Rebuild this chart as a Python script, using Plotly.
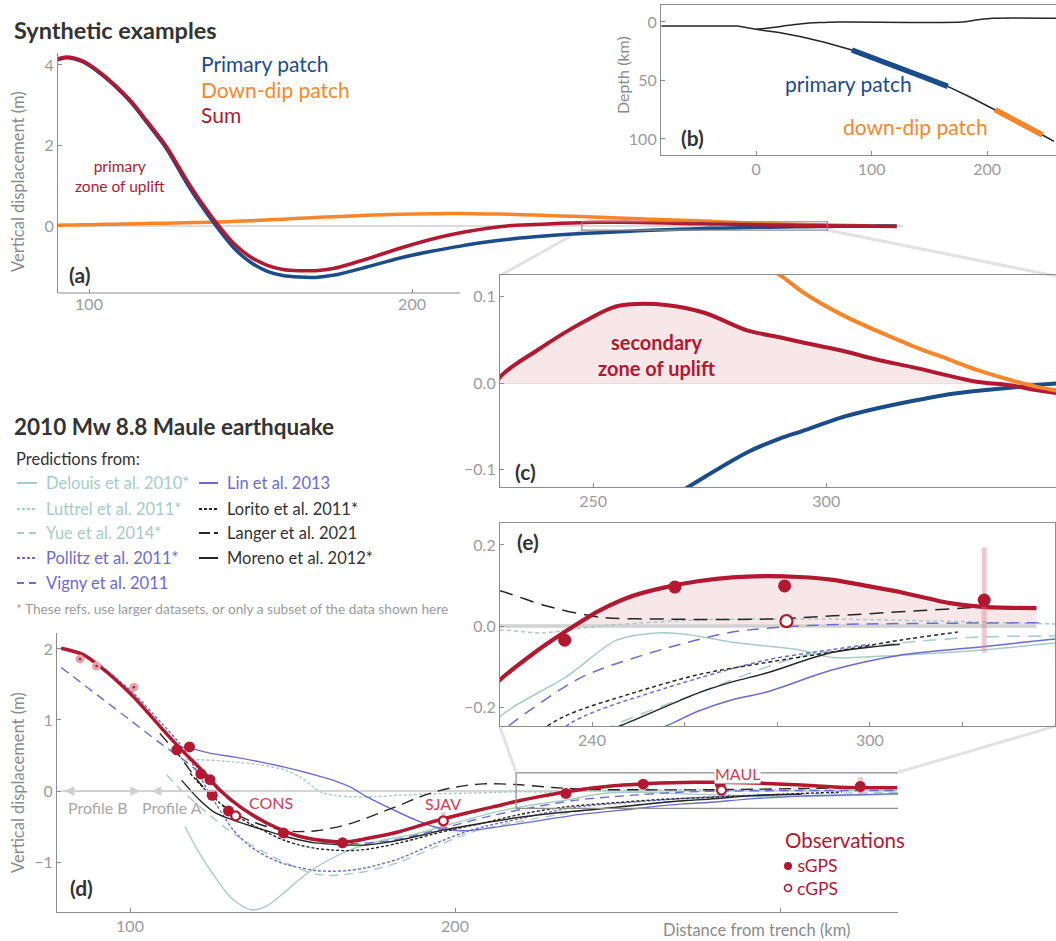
import plotly.graph_objects as go

FIG_W, FIG_H = 1056, 941
FONT = "Lato"

RED = "#b2182f"
RED_LABEL = "#cf3d55"
PINK_FILL = "#f8e7e9"
BLUE = "#1b4c8a"
ORANGE = "#f7862b"
TEAL = "#a5ccc5"
VIOLET = "#6b6bd3"
BLACK = "#262626"
DARK_TXT = "#333333"
GRAY_TXT = "#9b9b9b"
AXIS = "#8c8c8c"
CONNECT = "#e2e2e2"

# ---------------- synthetic examples (km from trench, metres) ----------------
syn_x = [90, 93, 98, 103, 108, 113, 118, 124, 130, 134, 140, 145, 150, 155, 160, 165,
         170, 176, 186, 196, 206, 215, 223, 230, 238, 246, 254, 258, 266, 274, 283, 290,
         295, 303, 311, 319, 326, 332, 340, 345, 350]
syn_primary = [4.12, 4.18, 4.08, 3.82, 3.48, 3.07, 2.56, 1.92, 1.10, 0.60, -0.07, -0.56,
               -0.90, -1.12, -1.23, -1.27, -1.28, -1.22, -1.02, -0.80, -0.63, -0.50, -0.40,
               -0.33, -0.27, -0.22, -0.18, -0.165, -0.135, -0.108, -0.080, -0.064, -0.055,
               -0.040, -0.029, -0.020, -0.013, -0.009, -0.005, -0.002, 0.0]
syn_downdip = [0.02, 0.022, 0.03, 0.037, 0.045, 0.052, 0.06, 0.07, 0.08, 0.088, 0.10,
               0.115, 0.13, 0.15, 0.17, 0.19, 0.21, 0.23, 0.265, 0.29, 0.305, 0.31, 0.30,
               0.29, 0.27, 0.25, 0.23, 0.22, 0.19, 0.17, 0.145, 0.125, 0.105, 0.08, 0.06,
               0.042, 0.028, 0.016, 0.003, -0.004, -0.009]
syn_sum = [4.14, 4.20, 4.10, 3.84, 3.50, 3.10, 2.60, 1.97, 1.17, 0.68, 0.02, -0.45, -0.77,
           -0.97, -1.08, -1.11, -1.11, -1.05, -0.82, -0.56, -0.33, -0.17, -0.065, 0.007,
           0.038, 0.065, 0.087, 0.091, 0.090, 0.081, 0.061, 0.053, 0.047, 0.038, 0.027,
           0.018, 0.009, 0.002, -0.003, -0.008, -0.012]
zoom_box_a = [252.6, 328.6]

# ---------------- fault geometry (km) ----------------
slab_x = [-82, -16, 0, 20, 40, 60, 83, 104, 125, 145, 166, 187, 207, 228, 248, 258]
slab_depth = [3.4, 3.4, 6.3, 9.0, 12.8, 17.5, 24.0, 31.5, 39.0, 47.0, 55.0, 65.0, 75.0,
              86.0, 96.6, 102.0]
topo_x = [0, 20, 38, 55, 73, 179, 192, 205, 260]
topo_depth = [6.3, 4.0, 1.7, 0.5, 0.0, 0.0, -1.8, -3.1, -3.1]
primary_patch_km = [83, 166]
downdip_patch_km = [207, 248]

# ---------------- Maule: preferred model (red) ----------------
model_x = [78.8, 85.6, 90.8, 96, 101, 105, 109.2, 115.4, 121.5, 127.7, 133.8, 142.1, 152.3,
           162.5, 167.7, 172.8, 183.1, 193.3, 203.6, 212, 220.1, 227.2, 234.5, 241.6,
           248.7, 256, 263.2, 270.3, 277.7, 284.8, 292, 299.3, 306.5, 317, 324.3, 336]
model_y = [2.01, 1.92, 1.75, 1.55, 1.33, 1.13, 0.91, 0.60, 0.32, 0.01, -0.22, -0.45, -0.64,
           -0.71, -0.71, -0.67, -0.57, -0.43, -0.31, -0.22, -0.133, -0.069, -0.012, 0.038,
           0.074, 0.096, 0.111, 0.12, 0.123, 0.121, 0.114, 0.099, 0.084, 0.057, 0.047, 0.044]

# ---------------- Maule: published predictions ----------------
delouis_x = [116.9, 121, 126, 131, 136.9, 142, 147.2, 152, 157.4, 162.5, 167.7, 173, 178,
             188.2, 198.5, 208.7, 215, 223, 234.5, 245.3, 254, 259.7, 270.3, 284.8, 292,
             306.5, 324.3, 340]
delouis_y = [-0.5, -0.85, -1.2, -1.5, -1.67, -1.62, -1.44, -1.25, -1.07, -0.94, -0.83,
             -0.75, -0.69, -0.6, -0.47, -0.34, -0.27, -0.2, -0.125, -0.035, -0.017, -0.02,
             -0.04, -0.059, -0.078, -0.072, -0.059, -0.042]
luttrel_x = [117.4, 121.5, 131.8, 140, 147.2, 152.3, 158.5, 163, 167.7, 175, 183, 193, 203.6,
             212, 220, 229.3, 241.6, 263, 292, 340]
luttrel_y = [0.44, 0.44, 0.41, 0.37, 0.3, 0.2, -0.01, -0.06, -0.08, -0.08, -0.06, -0.04,
             -0.03, -0.02, -0.01, -0.017, 0.0, 0.015, 0.017, 0.005]
yue_x = [111.3, 116, 121, 125.6, 131.8, 142, 152.3, 157, 162.6, 167, 172.8, 183, 193.3,
         203.6, 210, 220, 232, 243.8, 263, 284.8, 306.5, 324, 340]
yue_y = [0.23, 0.0, -0.2, -0.38, -0.6, -0.88, -1.1, -1.17, -1.19, -1.17, -1.13, -1.0, -0.8,
         -0.6, -0.52, -0.43, -0.33, -0.25, -0.165, -0.076, -0.042, -0.027, -0.025]
pollitz_x = [90.8, 101, 109.2, 115.4, 121.5, 126.7, 131.8, 137, 142, 147, 152.3, 157, 162.6,
             167, 172.8, 183, 193.3, 203.6, 210, 220, 235.8, 256, 277.7, 292, 300]
pollitz_y = [1.77, 1.38, 0.98, 0.66, 0.2, -0.2, -0.55, -0.78, -0.92, -1.02, -1.08, -1.12,
             -1.13, -1.12, -1.08, -0.95, -0.75, -0.57, -0.49, -0.39, -0.237, -0.153, -0.084,
             -0.058, -0.045]
vigny_x = [78.8, 90, 100, 110, 117, 124, 131, 140, 150, 160, 170, 180, 190, 200, 210, 223.7,
           238, 256, 270.3, 284.8, 299.3, 337]
vigny_y = [1.74, 1.35, 1.0, 0.65, 0.42, 0.15, -0.14, -0.42, -0.62, -0.72, -0.74, -0.7, -0.6,
           -0.48, -0.36, -0.232, -0.125, -0.055, -0.015, 0.0, 0.005, 0.008]
lin_x = [115, 118.5, 125, 131.8, 140, 147.2, 155, 162.6, 168, 172.8, 178, 183.1, 188, 193.3,
         201.5, 207.7, 220, 238.5, 256, 263, 270.3, 277.7, 292, 306.5, 324.3, 340]
lin_y = [0.62, 0.6, 0.53, 0.48, 0.41, 0.34, 0.25, 0.15, 0.05, -0.08, -0.2, -0.31, -0.41,
         -0.5, -0.56, -0.54, -0.46, -0.33, -0.247, -0.21, -0.182, -0.163, -0.108, -0.072,
         -0.051, -0.032]
lorito_x = [118.5, 122, 126.7, 131, 136.9, 142, 147.2, 152, 157.4, 162, 167.7, 173, 178, 183,
            188.2, 193, 198.5, 208.7, 220, 233.7, 248.7, 263, 277.7, 292, 306.5, 319]
lorito_y = [0.25, 0.07, -0.13, -0.3, -0.46, -0.58, -0.69, -0.76, -0.81, -0.83, -0.84, -0.82,
            -0.78, -0.73, -0.67, -0.61, -0.55, -0.45, -0.33, -0.225, -0.166, -0.12, -0.09,
            -0.064, -0.035, -0.015]
langer_x = [109.2, 115.4, 121.5, 126.5, 131.8, 137, 142, 150.3, 157.4, 162.5, 167.7, 172.8,
            177.9, 183, 188.2, 193.3, 198.5, 203.6, 208.7, 214, 220.1, 230, 241.6, 256, 277.7,
            292, 306.5, 324.3]
langer_y = [0.81, 0.48, 0.11, -0.12, -0.31, -0.42, -0.5, -0.57, -0.56, -0.52, -0.46, -0.38,
            -0.29, -0.2, -0.1, -0.02, 0.04, 0.08, 0.1, 0.1, 0.087, 0.05, 0.022, 0.017, 0.017,
            0.025, 0.035, 0.047]
moreno_x = [115.9, 121.5, 126, 131.8, 137, 142, 147, 152.3, 157, 162.6, 167, 172.8, 178,
            183.1, 190, 196.4, 208.7, 220, 233, 246, 263, 270.3, 277.7, 292, 306.5]
moreno_y = [0.15, -0.13, -0.3, -0.41, -0.49, -0.56, -0.63, -0.69, -0.73, -0.75, -0.76, -0.76,
            -0.73, -0.69, -0.62, -0.55, -0.45, -0.37, -0.3, -0.247, -0.165, -0.138, -0.116,
            -0.065, -0.045]

# ---------------- Maule: GPS observations ----------------
sgps_x = [114.4, 118.3, 121.8, 124.6, 125.3, 130.3, 147.2, 165.4, 234.1, 257.9, 281.6, 324.7]
sgps_y = [0.58, 0.62, 0.24, 0.16, -0.06, -0.28, -0.59, -0.73, -0.035, 0.096, 0.099, 0.064]
sgps_err = [0, 0, 0, 0, 0, 0, 0, 0, 0, 0, 0, 0.13]
cgps_x = [132.5, 196.4, 282.0]
cgps_y = [-0.35, -0.42, 0.012]
cgps_err = [0, 0.12, 0]
cgps_names = ["CONS", "SJAV", "MAUL"]
profile_b_x = [84.6, 89.7, 101.2]
profile_b_y = [1.86, 1.76, 1.46]
profile_b_km = [79.4, 103.1]
profile_a_start_km = 106.2
zoom_box_d = [218.8, 336.6, -0.245, 0.255]

legend_col1 = [("Delouis et al. 2010*", TEAL, "solid"),
               ("Luttrel et al. 2011*", TEAL, "3px,2px"),
               ("Yue et al. 2014*", TEAL, "7px,5px"),
               ("Pollitz et al. 2011*", VIOLET, "3px,2px"),
               ("Vigny et al. 2011", VIOLET, "7px,5px")]
legend_col2 = [("Lin et al. 2013", VIOLET, "solid"),
               ("Lorito et al. 2011*", BLACK, "3px,2px"),
               ("Langer et al. 2021", BLACK, "11px,4px"),
               ("Moreno et al. 2012*", BLACK, "solid")]


def fx(p):
    return p / FIG_W


def fy(p):
    return 1 - p / FIG_H


fig = go.Figure()


def add_line(x, y, ax, color, width, dash="solid", shape="spline", **kw):
    fig.add_trace(go.Scatter(
        x=x, y=y, xaxis="x" + ax, yaxis="y" + ax, mode="lines",
        line=dict(color=color, width=width, dash=dash, shape=shape, smoothing=0.8),
        hoverinfo="skip", showlegend=False, **kw))


# (a) synthetic profiles
add_line(syn_x, syn_downdip, "", ORANGE, 3.5)
add_line(syn_x, syn_primary, "", BLUE, 3.5)
add_line(syn_x, syn_sum, "", RED, 3.5)

# (b) geometry
add_line(slab_x, slab_depth, "2", BLACK, 1.5, shape="linear")
add_line(topo_x, topo_depth, "2", BLACK, 1.5)
for (k0, k1), col in ((primary_patch_km, BLUE), (downdip_patch_km, ORANGE)):
    px_ = [v for v in slab_x if k0 <= v <= k1]
    pd_ = [d for v, d in zip(slab_x, slab_depth) if k0 <= v <= k1]
    add_line(px_, pd_, "2", col, 5.5, shape="linear")

# (c) close-up of the secondary uplift
sum_pos = [max(v, 0.0) for v in syn_sum]
add_line(syn_x, sum_pos, "3", "rgba(0,0,0,0)", 0, shape="linear",
         fill="tozeroy", fillcolor=PINK_FILL)
add_line(syn_x, syn_primary, "3", BLUE, 4)
add_line(syn_x, syn_sum, "3", RED, 4)
add_line(syn_x, syn_downdip, "3", ORANGE, 4)

# (d) and (e) Maule predictions
models = [
    (delouis_x, delouis_y, TEAL, "solid", "solid"),
    (luttrel_x, luttrel_y, TEAL, "3px,2px", "4px,3px"),
    (yue_x, yue_y, TEAL, "9px,6px", "13px,8px"),
    (pollitz_x, pollitz_y, VIOLET, "3px,2px", "4px,3px"),
    (vigny_x, vigny_y, VIOLET, "9px,6px", "12px,8px"),
    (lin_x, lin_y, VIOLET, "solid", "solid"),
    (lorito_x, lorito_y, BLACK, "3px,2px", "4px,3px"),
    (langer_x, langer_y, BLACK, "12px,7px", "14px,8px"),
    (moreno_x, moreno_y, BLACK, "solid", "solid"),
]

model_pos = [max(v, 0.0) for v in model_y]
add_line(model_x, model_pos, "5", "rgba(0,0,0,0)", 0, shape="linear",
         fill="tozeroy", fillcolor=PINK_FILL)
zero_x = [model_x[0], model_x[-1]]
add_line(zero_x, [0, 0], "4", "#d6d6d6", 2, shape="linear")
add_line(zero_x, [0, 0], "5", "#d2d2d2", 3.5, shape="linear")

for mx, my, col, dash_d, dash_e in models:
    add_line(mx, my, "4", col, 1.4, dash_d)
    add_line(mx, my, "5", col, 1.5, dash_e)

add_line(model_x, model_y, "4", RED, 3.5)
add_line(model_x, model_y, "5", RED, 4.2)


def add_obs(ax, size_fill, size_open, size_pale):
    err_style = dict(type="data", symmetric=True, color="rgba(214,120,135,0.4)",
                     thickness=5, width=0)
    fig.add_trace(go.Scatter(
        x=profile_b_x, y=profile_b_y, xaxis="x" + ax, yaxis="y" + ax, mode="markers",
        marker=dict(size=size_pale, color="#e9a2a8", line=dict(width=0)),
        hoverinfo="skip", showlegend=False))
    fig.add_trace(go.Scatter(
        x=profile_b_x, y=profile_b_y, xaxis="x" + ax, yaxis="y" + ax, mode="markers",
        marker=dict(size=2.5, color=RED, line=dict(width=0)),
        hoverinfo="skip", showlegend=False))
    fig.add_trace(go.Scatter(
        x=sgps_x, y=sgps_y, xaxis="x" + ax, yaxis="y" + ax, mode="markers",
        error_y=dict(array=sgps_err, **err_style),
        marker=dict(size=size_fill, color=RED, line=dict(width=0)),
        hoverinfo="skip", showlegend=False))
    fig.add_trace(go.Scatter(
        x=cgps_x, y=cgps_y, xaxis="x" + ax, yaxis="y" + ax, mode="markers",
        error_y=dict(array=cgps_err, **err_style),
        marker=dict(size=size_open, color="white", line=dict(width=2.2, color=RED)),
        hoverinfo="skip", showlegend=False))


add_obs("4", 11, 9, 9)
add_obs("5", 13, 12, 10)


# ---------------- axes ----------------
def axis(d0, d1, rng, horizontal, **kw):
    dom = [fx(d0), fx(d1)] if horizontal else [fy(d1), fy(d0)]
    base = dict(domain=dom, range=rng, showgrid=False, zeroline=False, ticks="inside",
                ticklen=4, tickwidth=1, tickcolor=AXIS, showline=True, linecolor=AXIS,
                linewidth=1.2, tickfont=dict(family=FONT, size=16, color=GRAY_TXT),
                fixedrange=True)
    base.update(kw)
    return base


layout_axes = dict(
    xaxis=axis(58, 903, [90.4, 352], True, anchor="y", showline=False,
               tickvals=[100, 200]),
    yaxis=axis(53, 293, [-1.665, 4.298], False, anchor="x", tickvals=[0, 2, 4],
               zeroline=True, zerolinecolor="#dcdcdc", zerolinewidth=1.5),
    xaxis2=axis(661, 1056, [-82.3, 259.7], True, anchor="y2", mirror=True,
                tickvals=[0, 100, 200]),
    yaxis2=axis(5, 155, [113.7, -14.5], False, anchor="x2", tickvals=[0, 50, 100]),
    xaxis3=axis(500, 1056, [230.0, 349.3], True, anchor="y3", mirror=True,
                tickvals=[250, 300]),
    yaxis3=axis(275, 487, [-0.1199, 0.1249], False, anchor="x3",
                tickvals=[-0.1, 0.0, 0.1], tickformat=".1f",
                zeroline=True, zerolinecolor="#dcdcdc", zerolinewidth=1.5),
    xaxis4=axis(57, 898, [77.54, 336.3], True, anchor="y4",
                tickvals=[100, 200, 300], ticktext=["100", "200", ""]),
    yaxis4=axis(633, 912, [-1.704, 2.225], False, anchor="x4", tickvals=[-1, 0, 1, 2]),
    xaxis5=axis(500, 1055, [220.13, 340.0], True, anchor="y5", mirror=True,
                tickvals=[240, 260, 280, 300, 320],
                ticktext=["240", "", "", "300", ""]),
    yaxis5=axis(523, 726, [-0.2469, 0.2543], False, anchor="x5", mirror=True,
                tickvals=[-0.2, 0.0, 0.2], tickformat=".1f"),
)

# ---------------- shapes ----------------
shapes = []


def pline(x0, y0, x1, y1, color, width, dash="solid", layer="below"):
    shapes.append(dict(type="line", xref="paper", yref="paper", x0=fx(x0), y0=fy(y0),
                       x1=fx(x1), y1=fy(y1), line=dict(color=color, width=width, dash=dash),
                       layer=layer))


# connectors from zoom boxes to the close-up panels
pline(581.7, 230, 501, 275, CONNECT, 3)
pline(827, 230, 1056, 276, CONNECT, 3)
pline(516, 772, 500, 727, CONNECT, 3)
pline(899, 772, 1056, 726, CONNECT, 3)
# bottom axis of (a), stopping where (c) begins
pline(58, 293, 460, 293, AXIS, 1.2, layer="above")

shapes.append(dict(type="rect", xref="x", yref="y", x0=zoom_box_a[0], x1=zoom_box_a[1],
                   y0=-0.105, y1=0.105, line=dict(color=AXIS, width=1.2), layer="above"))
shapes.append(dict(type="rect", xref="x4", yref="y4", x0=zoom_box_d[0], x1=zoom_box_d[1],
                   y0=zoom_box_d[2], y1=zoom_box_d[3], line=dict(color=AXIS, width=1.2),
                   layer="above"))

# legend samples
rows = [483, 509, 533, 558, 583]
for (label, col, dash), yy in zip(legend_col1, rows):
    pline(17, yy, 37, yy, col, 2, dash, layer="above")
for (label, col, dash), yy in zip(legend_col2, rows):
    pline(199, yy, 218, yy, col, 2, dash, layer="above")

# observation legend symbols
shapes.append(dict(type="circle", xref="paper", yref="paper", x0=fx(784), x1=fx(792),
                   y0=fy(870), y1=fy(862), fillcolor=RED, line=dict(width=0)))
shapes.append(dict(type="circle", xref="paper", yref="paper", x0=fx(784.5), x1=fx(791.5),
                   y0=fy(891.5), y1=fy(884.5), fillcolor="white",
                   line=dict(width=1.6, color=RED)))

# ---------------- text ----------------
ann = []


def text(x, y, s, size, color, bold=False, anchor="left", angle=0, **kw):
    ann.append(dict(xref="paper", yref="paper", x=fx(x), y=fy(y), xanchor=anchor,
                    yanchor="middle", showarrow=False, textangle=angle,
                    text=f"<b>{s}</b>" if bold else s,
                    font=dict(family=FONT, size=size, color=color), **kw))


text(12, 30, "Synthetic examples", 23.5, DARK_TXT, bold=True)
text(199, 63, "Primary patch", 21, BLUE)
text(199, 89, "Down-dip patch", 21, ORANGE)
text(199, 115, "Sum", 21, RED)
text(120, 176, "primary<br>zone of uplift", 15.5, RED, anchor="center", align="center")
text(79, 274, "(a)", 21, DARK_TXT, bold=True, anchor="center")
text(18, 182, "Vertical displacement (m)", 16.5, "#8a8a8a", anchor="center", angle=-90)

text(848, 83, "primary patch", 21, BLUE, anchor="center")
text(915, 127, "down-dip patch", 21, ORANGE, anchor="center")
text(692, 137, "(b)", 21, DARK_TXT, bold=True, anchor="center")
text(622, 75, "Depth (km)", 16, "#8a8a8a", anchor="center", angle=-90)

text(657, 355, "secondary<br>zone of uplift", 20, RED, bold=True, anchor="center",
     align="center")
text(525, 471, "(c)", 21, DARK_TXT, bold=True, anchor="center")

text(12, 426, "2010 Mw 8.8 Maule earthquake", 22.5, DARK_TXT, bold=True)
text(14, 459, "Predictions from:", 16.5, DARK_TXT)
for (label, col, dash), yy in zip(legend_col1, rows):
    text(44, yy, label, 16.5, col)
for (label, col, dash), yy in zip(legend_col2, rows):
    text(225, yy, label, 16.5, DARK_TXT if col == BLACK else col)
text(14, 608, "* These refs. use larger datasets, or only a subset of the data shown here",
     13.7, GRAY_TXT)

text(81, 887, "(d)", 21, DARK_TXT, bold=True, anchor="center")
text(18, 783, "Vertical displacement (m)", 16.5, "#8a8a8a", anchor="center", angle=-90)
text(756, 930, "Distance from trench (km)", 16.5, "#8a8a8a", anchor="center")
text(98, 807, "Profile B", 16, "#a8a8a8", anchor="center")
text(172, 807, "Profile A", 16, "#a8a8a8", anchor="center")
text(271, 802, cgps_names[0], 16, RED_LABEL, anchor="center")
text(443, 803, cgps_names[1], 16, RED_LABEL, anchor="center")
text(737, 773, cgps_names[2], 16, RED_LABEL, anchor="center", bgcolor="white",
     borderpad=0)
text(783, 840, "Observations", 20.5, RED)
text(795, 877, "sGPS<br>cGPS", 17.5, RED)
text(528, 541, "(e)", 21, DARK_TXT, bold=True, anchor="center")

# profile extents along the zero line
ann.append(dict(xref="x4", yref="y4", axref="x4", ayref="y4",
                x=profile_b_km[1], y=0, ax=profile_b_km[0], ay=0, text="",
                showarrow=True, arrowside="end+start", arrowhead=2, startarrowhead=2,
                arrowsize=1.3, startarrowsize=1.3, arrowwidth=1.5, arrowcolor="#cfcfcf"))
ann.append(dict(xref="x4", yref="y4", axref="x4", ayref="y4",
                x=profile_a_start_km + 20, y=0, ax=profile_a_start_km, ay=0, text="",
                showarrow=True, arrowside="start", arrowhead=2, startarrowhead=2,
                startarrowsize=1.3, arrowwidth=1.5, arrowcolor="#cfcfcf"))

fig.update_layout(
    width=FIG_W, height=FIG_H, margin=dict(l=0, r=0, t=0, b=0),
    paper_bgcolor="white", plot_bgcolor="rgba(0,0,0,0)",
    font=dict(family=FONT), showlegend=False,
    shapes=shapes, annotations=ann, **layout_axes)

fig.write_html("out.html")
